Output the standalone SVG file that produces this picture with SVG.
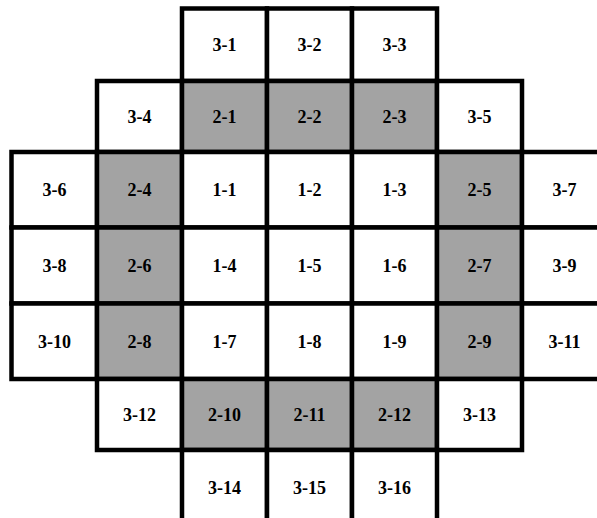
<svg xmlns="http://www.w3.org/2000/svg" width="597" height="518" viewBox="0 0 597 518">
<style>
.w{fill:#ffffff;stroke:#000;stroke-width:4.5}
.g{fill:#a3a3a3;stroke:#000;stroke-width:4.5}
text{font-family:"Liberation Serif","Times New Roman",serif;font-weight:bold;font-size:18px;text-anchor:middle;fill:#000}
</style>
<rect width="597" height="518" fill="#fff"/>
<g id="cells">
<g id="c3-1"><rect class="w" x="182" y="8.5" width="85" height="72.5"/><text x="224.5" y="50.5">3-1</text></g>
<g id="c3-2"><rect class="w" x="267" y="8.5" width="85" height="72.5"/><text x="309.5" y="50.5">3-2</text></g>
<g id="c3-3"><rect class="w" x="352" y="8.5" width="85" height="72.5"/><text x="394.5" y="50.5">3-3</text></g>

<g id="c3-4"><rect class="w" x="97" y="81" width="85" height="71"/><text x="139.5" y="122.5">3-4</text></g>
<g id="c2-1"><rect class="g" x="182" y="81" width="85" height="71"/><text x="224.5" y="122.5">2-1</text></g>
<g id="c2-2"><rect class="g" x="267" y="81" width="85" height="71"/><text x="309.5" y="122.5">2-2</text></g>
<g id="c2-3"><rect class="g" x="352" y="81" width="85" height="71"/><text x="394.5" y="122.5">2-3</text></g>
<g id="c3-5"><rect class="w" x="437" y="81" width="85" height="71"/><text x="479.5" y="122.5">3-5</text></g>

<g id="c3-6"><rect class="w" x="11.5" y="152" width="85.5" height="75.5"/><text x="54.5" y="196">3-6</text></g>
<g id="c2-4"><rect class="g" x="97" y="152" width="85" height="75.5"/><text x="139.5" y="196">2-4</text></g>
<g id="c1-1"><rect class="w" x="182" y="152" width="85" height="75.5"/><text x="224.5" y="196">1-1</text></g>
<g id="c1-2"><rect class="w" x="267" y="152" width="85" height="75.5"/><text x="309.5" y="196">1-2</text></g>
<g id="c1-3"><rect class="w" x="352" y="152" width="85" height="75.5"/><text x="394.5" y="196">1-3</text></g>
<g id="c2-5"><rect class="g" x="437" y="152" width="85" height="75.5"/><text x="479.5" y="196">2-5</text></g>
<g id="c3-7"><rect class="w" x="522" y="152" width="85" height="75.5"/><text x="564.5" y="196">3-7</text></g>

<g id="c3-8"><rect class="w" x="11.5" y="227.5" width="85.5" height="76"/><text x="54.5" y="271.5">3-8</text></g>
<g id="c2-6"><rect class="g" x="97" y="227.5" width="85" height="76"/><text x="139.5" y="271.5">2-6</text></g>
<g id="c1-4"><rect class="w" x="182" y="227.5" width="85" height="76"/><text x="224.5" y="271.5">1-4</text></g>
<g id="c1-5"><rect class="w" x="267" y="227.5" width="85" height="76"/><text x="309.5" y="271.5">1-5</text></g>
<g id="c1-6"><rect class="w" x="352" y="227.5" width="85" height="76"/><text x="394.5" y="271.5">1-6</text></g>
<g id="c2-7"><rect class="g" x="437" y="227.5" width="85" height="76"/><text x="479.5" y="271.5">2-7</text></g>
<g id="c3-9"><rect class="w" x="522" y="227.5" width="85" height="76"/><text x="564.5" y="271.5">3-9</text></g>

<g id="c3-10"><rect class="w" x="11.5" y="303.5" width="85.5" height="75.5"/><text x="54.5" y="347.5">3-10</text></g>
<g id="c2-8"><rect class="g" x="97" y="303.5" width="85" height="75.5"/><text x="139.5" y="347.5">2-8</text></g>
<g id="c1-7"><rect class="w" x="182" y="303.5" width="85" height="75.5"/><text x="224.5" y="347.5">1-7</text></g>
<g id="c1-8"><rect class="w" x="267" y="303.5" width="85" height="75.5"/><text x="309.5" y="347.5">1-8</text></g>
<g id="c1-9"><rect class="w" x="352" y="303.5" width="85" height="75.5"/><text x="394.5" y="347.5">1-9</text></g>
<g id="c2-9"><rect class="g" x="437" y="303.5" width="85" height="75.5"/><text x="479.5" y="347.5">2-9</text></g>
<g id="c3-11"><rect class="w" x="522" y="303.5" width="85" height="75.5"/><text x="564.5" y="347.5">3-11</text></g>

<g id="c3-12"><rect class="w" x="97" y="379" width="85" height="71"/><text x="139.5" y="420.5">3-12</text></g>
<g id="c2-10"><rect class="g" x="182" y="379" width="85" height="71"/><text x="224.5" y="420.5">2-10</text></g>
<g id="c2-11"><rect class="g" x="267" y="379" width="85" height="71"/><text x="309.5" y="420.5">2-11</text></g>
<g id="c2-12"><rect class="g" x="352" y="379" width="85" height="71"/><text x="394.5" y="420.5">2-12</text></g>
<g id="c3-13"><rect class="w" x="437" y="379" width="85" height="71"/><text x="479.5" y="420.5">3-13</text></g>

<g id="c3-14"><rect class="w" x="182" y="450" width="85" height="75"/><text x="224.5" y="493.5">3-14</text></g>
<g id="c3-15"><rect class="w" x="267" y="450" width="85" height="75"/><text x="309.5" y="493.5">3-15</text></g>
<g id="c3-16"><rect class="w" x="352" y="450" width="85" height="75"/><text x="394.5" y="493.5">3-16</text></g>
</g>
<g id="connectors"></g>
</svg>
